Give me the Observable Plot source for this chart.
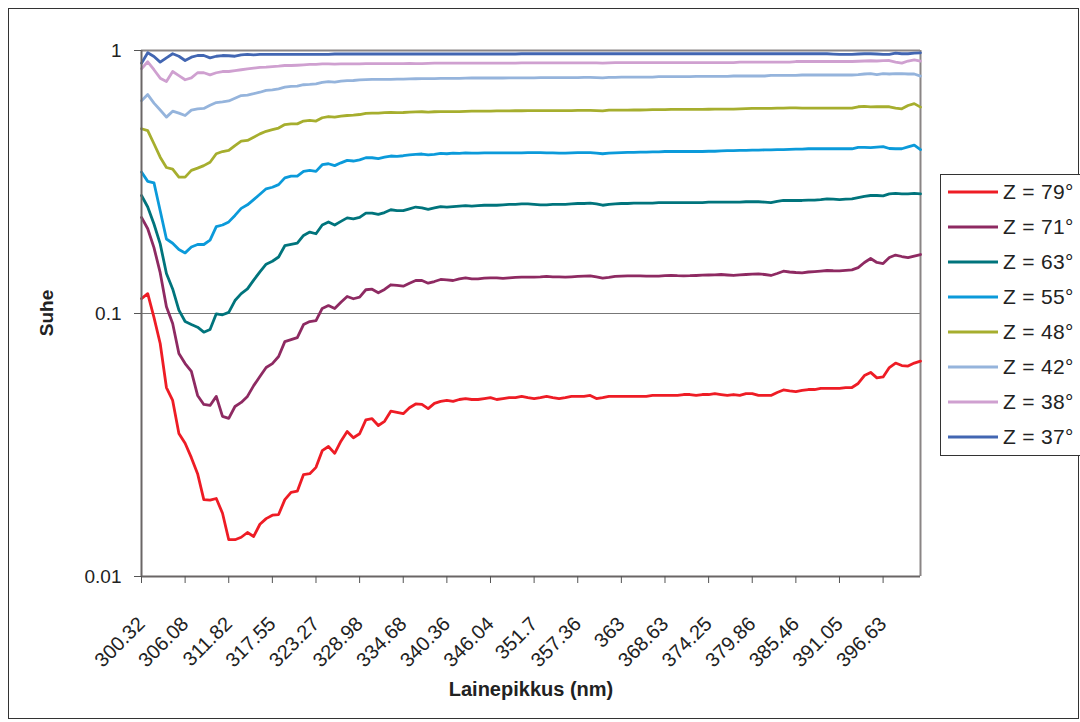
<!DOCTYPE html>
<html>
<head>
<meta charset="utf-8">
<script src="https://cdn.jsdelivr.net/npm/d3@7"></script>
<script src="https://cdn.jsdelivr.net/npm/@observablehq/plot@0.6"></script>
<style>
  html, body { margin: 0; padding: 0; background: #fff; }
  #wrap { position: relative; width: 1080px; height: 722px; font-family: "Liberation Sans", Arial, sans-serif; color: #222; overflow: hidden; }
  #outer { position: absolute; left: 8px; top: 8px; width: 1071px; height: 711px; border: 1px solid #333; box-sizing: border-box; }
  #chart { position: absolute; left: 0; top: 0; }
  .ytitle { position: absolute; left: 47px; top: 313px; transform: translate(-50%, -50%) rotate(-90deg); font-weight: bold; font-size: 19px; white-space: nowrap; }
  .xtitle { position: absolute; left: 531px; top: 689px; transform: translate(-50%, -50%); font-weight: bold; font-size: 20px; white-space: nowrap; }
  #legend { position: absolute; left: 940px; top: 174px; width: 142px; height: 282px; border: 1px solid #333; box-sizing: border-box; background: #fff; }
  .item { position: absolute; left: 7px; height: 24px; display: flex; align-items: center; font-size: 21px; letter-spacing: 0.3px; white-space: nowrap; }
  .item svg { margin-right: 5px; }
</style>
</head>
<body>
<div id="wrap">
  <div id="outer"></div>
  <div id="chart"></div>
  <div class="ytitle">Suhe</div>
  <div class="xtitle">Lainepikkus (nm)</div>
  <div id="legend"></div>
</div>
<script>
// Tick labels of the wavelength category axis (every 7th category is labelled)
const xTickLabels = ["300.32","306.08","311.82","317.55","323.27","328.98","334.68","340.36","346.04","351.7","357.36","363","368.63","374.25","379.86","385.46","391.05","396.63"];
const labelStep = 7;
const yTickValues = [0.01, 0.1, 1];
const yTickLabels = ["0.01", "0.1", "1"];

const seriesNames = ["Z = 79°","Z = 71°","Z = 63°","Z = 55°","Z = 48°","Z = 42°","Z = 38°","Z = 37°"];
const seriesColors = ["#ee1c25","#8e2a62","#00747c","#0b9ada","#a6ae2e","#95b4dc","#cfa0d0","#4266b2"];

const z79 = [0.114,0.119,0.0966,0.0769,0.0523,0.0467,0.0350,0.0321,0.0283,0.0246,0.0196,0.0195,0.0198,0.0174,0.0138,0.0138,0.0141,0.0147,0.0142,0.0158,
0.0166,0.0171,0.0172,0.0196,0.0209,0.0211,0.0244,0.0246,0.0260,0.0301,0.0312,0.0294,0.0327,0.0356,0.0337,0.0349,0.0394,0.0398,0.0375,0.0389,
0.0425,0.0421,0.0416,0.0438,0.0453,0.0451,0.0435,0.0455,0.0463,0.0467,0.0463,0.0471,0.0475,0.0471,0.0471,0.0475,0.0479,0.0471,0.0475,0.0479,
0.0479,0.0484,0.0479,0.0475,0.0479,0.0484,0.0479,0.0475,0.0479,0.0484,0.0484,0.0484,0.0488,0.0475,0.0479,0.0484,0.0484,0.0484,0.0484,0.0484,
0.0484,0.0484,0.0488,0.0488,0.0488,0.0488,0.0488,0.0492,0.0492,0.0488,0.0492,0.0492,0.0496,0.0492,0.0488,0.0492,0.0488,0.0496,0.0496,0.0488,
0.0488,0.0488,0.0501,0.0512,0.0508,0.0505,0.0510,0.0514,0.0514,0.0519,0.0519,0.0519,0.0519,0.0523,0.0523,0.0542,0.0581,0.0597,0.0569,0.0574,
0.0623,0.0648,0.0634,0.0631,0.0648,0.0659];

const z71 = [0.232,0.210,0.178,0.143,0.106,0.0916,0.0705,0.0645,0.0602,0.0488,0.0451,0.0447,0.0484,0.0406,0.0399,0.0443,0.0459,0.0484,0.0532,0.0576,
0.0623,0.0645,0.0686,0.0782,0.0796,0.0810,0.0908,0.0932,0.0940,0.1045,0.1072,0.1045,0.1104,0.1161,0.1138,0.1154,0.1231,0.1237,0.1199,0.1234,
0.1286,0.1278,0.1270,0.1304,0.1335,0.1335,0.1304,0.1323,0.1347,0.1343,0.1335,0.1355,0.1367,0.1355,0.1355,0.1363,0.1367,0.1367,0.1359,0.1365,
0.1371,0.1375,0.1375,0.1375,0.1377,0.1383,0.1379,0.1377,0.1375,0.1379,0.1383,0.1387,0.1391,0.1377,0.1363,0.1371,0.1383,0.1387,0.1389,0.1391,
0.1389,0.1388,0.1387,0.1388,0.1392,0.1395,0.1392,0.1391,0.1392,0.1395,0.1399,0.1401,0.1403,0.1407,0.1401,0.1395,0.1403,0.1407,0.1411,0.1415,
0.1407,0.1395,0.1419,0.1448,0.1438,0.1432,0.1428,0.1438,0.1444,0.1450,0.1457,0.1454,0.1453,0.1459,0.1466,0.1494,0.1563,0.1618,0.1563,0.1549,
0.1632,0.1668,0.1647,0.1632,0.1654,0.1676];

const z63 = [0.281,0.254,0.219,0.184,0.142,0.124,0.103,0.0932,0.0908,0.0887,0.0849,0.0870,0.0997,0.0989,0.101,0.112,0.119,0.124,0.134,0.144,
0.154,0.158,0.164,0.181,0.183,0.185,0.198,0.204,0.201,0.217,0.223,0.217,0.224,0.231,0.229,0.232,0.241,0.241,0.238,0.242,
0.248,0.246,0.246,0.250,0.254,0.252,0.249,0.252,0.255,0.254,0.255,0.256,0.257,0.256,0.257,0.258,0.258,0.258,0.259,0.260,
0.260,0.261,0.261,0.260,0.259,0.259,0.260,0.260,0.260,0.261,0.262,0.262,0.263,0.261,0.258,0.260,0.261,0.262,0.262,0.263,
0.263,0.263,0.263,0.264,0.264,0.264,0.264,0.264,0.264,0.264,0.264,0.265,0.265,0.265,0.265,0.265,0.265,0.266,0.266,0.266,
0.265,0.264,0.267,0.269,0.269,0.269,0.269,0.270,0.270,0.271,0.273,0.272,0.271,0.272,0.273,0.276,0.279,0.281,0.281,0.280,
0.285,0.286,0.285,0.285,0.286,0.285];

const z55 = [0.345,0.318,0.314,0.246,0.192,0.185,0.175,0.170,0.179,0.183,0.183,0.190,0.214,0.217,0.223,0.236,0.251,0.259,0.271,0.284,
0.298,0.302,0.309,0.328,0.333,0.333,0.347,0.350,0.347,0.368,0.371,0.365,0.374,0.382,0.380,0.384,0.391,0.391,0.388,0.393,
0.397,0.396,0.398,0.401,0.403,0.404,0.401,0.403,0.406,0.405,0.407,0.406,0.408,0.407,0.407,0.408,0.408,0.408,0.408,0.408,
0.408,0.408,0.409,0.409,0.409,0.408,0.408,0.407,0.407,0.408,0.409,0.409,0.409,0.407,0.405,0.407,0.408,0.409,0.410,0.410,
0.411,0.411,0.412,0.412,0.413,0.413,0.413,0.413,0.413,0.413,0.413,0.414,0.414,0.415,0.416,0.416,0.417,0.417,0.418,0.418,
0.419,0.419,0.420,0.420,0.421,0.422,0.422,0.423,0.423,0.423,0.423,0.423,0.423,0.423,0.423,0.428,0.428,0.427,0.429,0.431,
0.424,0.423,0.423,0.430,0.437,0.420];

const z48 = [0.504,0.496,0.442,0.393,0.359,0.354,0.330,0.330,0.350,0.357,0.365,0.376,0.405,0.413,0.417,0.435,0.452,0.455,0.468,0.482,
0.493,0.500,0.507,0.523,0.526,0.526,0.539,0.542,0.539,0.555,0.561,0.558,0.563,0.566,0.568,0.571,0.577,0.578,0.578,0.580,
0.581,0.580,0.581,0.583,0.584,0.585,0.583,0.585,0.586,0.586,0.586,0.586,0.587,0.588,0.588,0.588,0.588,0.589,0.589,0.589,
0.590,0.590,0.591,0.591,0.591,0.591,0.591,0.591,0.591,0.591,0.592,0.592,0.592,0.591,0.589,0.593,0.593,0.593,0.593,0.594,
0.594,0.595,0.596,0.596,0.596,0.597,0.597,0.597,0.597,0.597,0.597,0.598,0.599,0.599,0.599,0.599,0.600,0.601,0.602,0.602,
0.602,0.603,0.604,0.604,0.605,0.605,0.604,0.604,0.604,0.604,0.604,0.604,0.604,0.604,0.604,0.611,0.613,0.610,0.611,0.612,
0.611,0.604,0.600,0.618,0.628,0.609];

const z42 = [0.644,0.680,0.631,0.594,0.558,0.588,0.578,0.566,0.593,0.600,0.602,0.619,0.634,0.638,0.643,0.658,0.674,0.677,0.685,0.694,
0.705,0.709,0.715,0.725,0.730,0.732,0.741,0.743,0.747,0.756,0.761,0.758,0.765,0.768,0.769,0.773,0.775,0.776,0.776,0.776,
0.777,0.778,0.779,0.780,0.781,0.782,0.782,0.782,0.783,0.784,0.784,0.784,0.785,0.786,0.786,0.786,0.786,0.786,0.786,0.787,
0.787,0.787,0.787,0.787,0.788,0.788,0.788,0.788,0.788,0.788,0.788,0.790,0.790,0.789,0.787,0.790,0.790,0.792,0.792,0.792,
0.792,0.792,0.792,0.795,0.795,0.795,0.795,0.795,0.795,0.797,0.797,0.797,0.797,0.797,0.797,0.800,0.800,0.800,0.800,0.800,
0.800,0.804,0.804,0.804,0.804,0.804,0.807,0.807,0.807,0.807,0.807,0.807,0.807,0.807,0.807,0.809,0.814,0.816,0.809,0.816,
0.814,0.816,0.816,0.814,0.814,0.799];

const z38 = [0.852,0.906,0.845,0.785,0.762,0.832,0.803,0.774,0.787,0.823,0.823,0.808,0.823,0.832,0.832,0.839,0.845,0.852,0.857,0.862,
0.864,0.869,0.872,0.877,0.877,0.879,0.882,0.885,0.885,0.889,0.889,0.888,0.889,0.890,0.889,0.889,0.892,0.892,0.891,0.892,
0.892,0.892,0.892,0.893,0.892,0.892,0.894,0.895,0.895,0.895,0.895,0.895,0.895,0.896,0.895,0.895,0.895,0.895,0.895,0.895,
0.895,0.898,0.898,0.898,0.898,0.898,0.898,0.898,0.898,0.898,0.898,0.898,0.898,0.897,0.896,0.898,0.900,0.900,0.900,0.900,
0.900,0.900,0.900,0.900,0.900,0.900,0.900,0.900,0.900,0.900,0.900,0.900,0.900,0.900,0.900,0.900,0.904,0.904,0.904,0.904,
0.904,0.904,0.904,0.904,0.904,0.908,0.908,0.908,0.908,0.908,0.908,0.908,0.908,0.908,0.908,0.910,0.912,0.914,0.912,0.915,
0.916,0.904,0.895,0.912,0.922,0.911];

const z37 = [0.895,0.980,0.949,0.903,0.938,0.972,0.951,0.916,0.943,0.957,0.957,0.938,0.951,0.957,0.955,0.951,0.963,0.966,0.963,0.967,
0.967,0.967,0.967,0.967,0.967,0.967,0.967,0.967,0.967,0.967,0.967,0.970,0.970,0.970,0.970,0.970,0.970,0.970,0.970,0.970,
0.970,0.970,0.970,0.970,0.970,0.970,0.970,0.970,0.970,0.970,0.970,0.970,0.970,0.970,0.970,0.970,0.970,0.970,0.970,0.970,
0.970,0.972,0.972,0.972,0.972,0.972,0.972,0.972,0.972,0.972,0.972,0.972,0.972,0.972,0.972,0.972,0.972,0.972,0.972,0.972,
0.972,0.972,0.972,0.972,0.972,0.972,0.972,0.972,0.972,0.972,0.972,0.972,0.972,0.972,0.972,0.972,0.972,0.972,0.972,0.972,
0.972,0.972,0.972,0.972,0.972,0.972,0.972,0.972,0.972,0.972,0.972,0.969,0.966,0.966,0.967,0.970,0.972,0.972,0.970,0.967,
0.966,0.978,0.972,0.972,0.978,0.980];

const seriesValues = [z79, z71, z63, z55, z48, z42, z38, z37];
const nCat = z79.length;

const rows = [];
seriesValues.forEach((vals, s) => vals.forEach((v, i) => rows.push({i, v, s: seriesNames[s]})));

const xTicks = xTickLabels.map((_, k) => k * labelStep);

const chart = Plot.plot({
  width: 1080,
  height: 722,
  marginLeft: 141,
  marginRight: 160,
  marginTop: 50,
  marginBottom: 146,
  style: { fontFamily: "'Liberation Sans', Arial, sans-serif", background: "transparent", color: "#222" },
  x: { type: "linear", domain: [0, nCat - 1] },
  y: { type: "log", domain: [0.01, 1] },
  color: { domain: seriesNames, range: seriesColors },
  marks: [
    Plot.ruleY([0.1], { stroke: "#777", strokeWidth: 1 }),
    Plot.ruleY([1], { stroke: "#8a8585", strokeWidth: 2 }),
    Plot.ruleX([nCat - 1], { stroke: "#8a8585", strokeWidth: 2 }),
    Plot.line(rows, { x: "i", y: "v", z: "s", stroke: "s", strokeWidth: 2.8, strokeLinejoin: "round", curve: "linear" }),
    Plot.ruleY([0.01], { stroke: "#6a6666", strokeWidth: 2 }),
    Plot.ruleX([0], { stroke: "#6a6666", strokeWidth: 2 }),
    Plot.axisY({ ticks: yTickValues, tickFormat: d => yTickLabels[yTickValues.indexOf(d)], tickSize: 7, tickPadding: 13, fontSize: 19, label: null, stroke: "#555" }),
    Plot.axisX({ ticks: xTicks, tickFormat: d => xTickLabels[d / labelStep], tickRotate: -45, tickSize: 7, tickPadding: 37, fontSize: 20, label: null, stroke: "#555" })
  ]
});
document.getElementById("chart").appendChild(chart);

const legend = document.getElementById("legend");
seriesNames.forEach((name, k) => {
  const item = document.createElement("div");
  item.className = "item";
  item.style.top = (5 + k * 35) + "px";
  item.innerHTML = `<svg width="50" height="6"><line x1="0" y1="3" x2="50" y2="3" stroke="${seriesColors[k]}" stroke-width="3"/></svg><span>${name}</span>`;
  legend.appendChild(item);
});
</script>
</body>
</html>
